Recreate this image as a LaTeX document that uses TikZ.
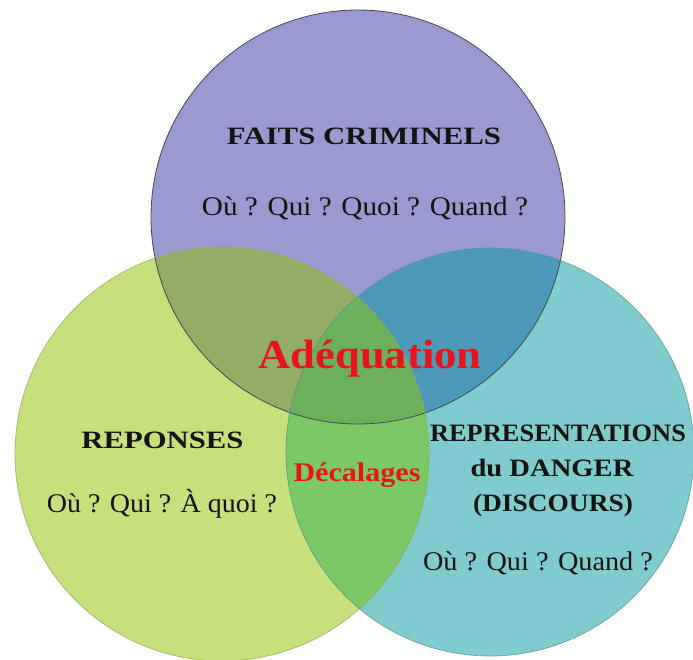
\documentclass[tikz,border=0pt]{standalone}
\usepackage{fontspec}
\setmainfont{Liberation Serif}
\usepackage{graphicx}
\definecolor{cTop}{HTML}{9A9AD0}
\definecolor{cLeft}{HTML}{C6E07B}
\definecolor{cRight}{HTML}{80CCCD}
\definecolor{cTL}{HTML}{92AD65}
\definecolor{cTR}{HTML}{4E98B8}
\definecolor{cLR}{HTML}{7DC866}
\definecolor{cAll}{HTML}{6DB05C}
\definecolor{txtred}{HTML}{E8141C}
\definecolor{txtdark}{HTML}{141414}
\newcommand\fitw[2]{\resizebox{#1}{\height}{#2}}
\begin{document}
\begin{tikzpicture}[x=1pt,y=-1pt,
  head/.style={anchor=base,inner sep=0pt,text=txtdark,font=\fontsize{25pt}{29pt}\selectfont\bfseries},
  ques/.style={anchor=base,inner sep=0pt,text=txtdark,font=\fontsize{27pt}{31pt}\selectfont},
  redtxt/.style={anchor=base,inner sep=0pt,text=txtred,font=\bfseries}]
\useasboundingbox (0,0) rectangle (693,660);
\fill[white] (0,0) rectangle (693,660);
\def\TopC{(358,217) circle (207pt)}
\def\LeftC{(222,454) circle (207pt)}
\def\RightC{(490,452) circle (204pt)}
% base circles
\fill[cTop] \TopC;
\fill[cLeft] \LeftC;
\fill[cRight] \RightC;
% pairwise overlaps
\begin{scope}\clip \TopC; \fill[cTL] \LeftC; \fill[cTR] \RightC; \end{scope}
\begin{scope}\clip \LeftC; \fill[cLR] \RightC; \end{scope}
\begin{scope}\clip \TopC; \clip \LeftC; \fill[cAll] \RightC; \end{scope}
% outlines
\draw[line width=0.8pt,draw=black!55!cTop] \TopC;
\draw[line width=0.8pt,draw=black!25!cLeft,opacity=0.7] \LeftC;
\draw[line width=0.8pt,draw=black!30!cRight,opacity=0.7] \RightC;
% texts
\node[head] (faits) at (364,145) {\fitw{274pt}{FAITS CRIMINELS}};
\node[ques] (faitsq) at (365,216) {\fitw{326pt}{Où ? Qui ? Quoi ? Quand ?}};
\node[head] (reponses) at (162.5,448) {\fitw{162pt}{REPONSES}};
\node[ques] (reponsesq) at (162,512) {\fitw{230pt}{Où ? Qui ? À quoi ?}};
\node[head] (repr) at (558,441) {\fitw{256pt}{REPRESENTATIONS}};
\node[head] (danger) at (552,476) {\fitw{163pt}{du DANGER}};
\node[head] (discours) at (553,511) {\fitw{160pt}{(DISCOURS)}};
\node[ques] (reprq) at (538,570) {\fitw{230pt}{Où ? Qui ? Quand ?}};
\node[redtxt,font=\fontsize{41pt}{46pt}\selectfont\bfseries] (adeq) at (370,368) {\fitw{223pt}{Adéquation}};
\node[redtxt,font=\fontsize{27pt}{31pt}\selectfont\bfseries] (decal) at (357,481) {\fitw{127pt}{Décalages}};
\end{tikzpicture}
\end{document}
